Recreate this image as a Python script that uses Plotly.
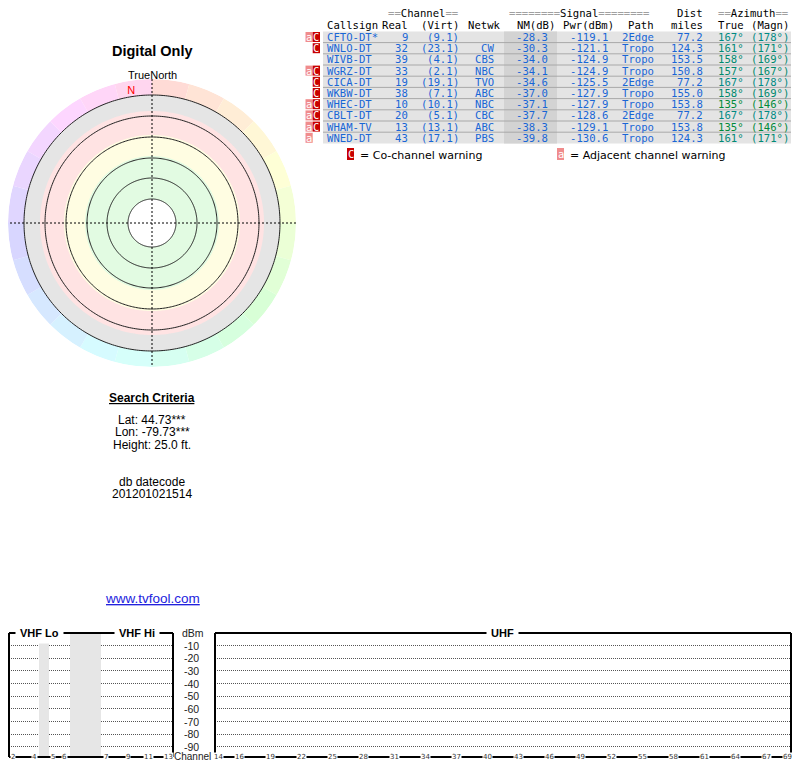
import numpy as np
import plotly.graph_objects as go

# station table
CALLSIGNS = ['CFTO-DT*', 'WNLO-DT', 'WIVB-DT', 'WGRZ-DT', 'CICA-DT',
             'WKBW-DT', 'WHEC-DT', 'CBLT-DT', 'WHAM-TV', 'WNED-DT']
REAL_CH = [9, 32, 39, 33, 19, 38, 10, 20, 13, 43]
VIRT_CH = ['9.1', '23.1', '4.1', '2.1', '19.1', '7.1', '10.1', '5.1', '13.1', '17.1']
NETWORKS = ['', 'CW', 'CBS', 'NBC', 'TVO', 'ABC', 'NBC', 'CBC', 'ABC', 'PBS']
NM_DB = [-28.3, -30.3, -34.0, -34.1, -34.6, -37.0, -37.1, -37.7, -38.3, -39.8]
PWR_DBM = [-119.1, -121.1, -124.9, -124.9, -125.5, -127.9, -127.9, -128.6, -129.1, -130.6]
PATHS = ['2Edge', 'Tropo', 'Tropo', 'Tropo', '2Edge', 'Tropo', 'Tropo', '2Edge', 'Tropo', 'Tropo']
DIST_MI = [77.2, 124.3, 153.5, 150.8, 77.2, 155.0, 153.8, 77.2, 153.8, 124.3]
AZ_TRUE = [167, 161, 158, 157, 167, 158, 135, 167, 135, 161]
AZ_MAGN = [178, 171, 169, 167, 178, 169, 146, 178, 146, 171]
ADJ_WARN = [1, 0, 0, 1, 0, 0, 1, 1, 1, 1]
CO_WARN = [1, 1, 0, 1, 1, 1, 1, 1, 1, 0]

N_LABEL_THETA = -9

# radar rings
RING_RADII = [24, 45, 65, 86, 107, 128]
BAND_RADII = [128, 112, 88, 67, 24]
BAND_COLORS = ['#e5e5e5', '#ffe3e3', '#fffde2', '#e2fbe2', '#ffffff']
HUE_RING = (128, 144)
N_HUE_SEG = 24

# spectrum panels
DBM_TICKS = [-10, -20, -30, -40, -50, -60, -70, -80, -90]
UHF_TICKS = [14, 16, 19, 22, 25, 28, 31, 34, 37, 40, 43, 46, 49, 52, 55, 58, 61, 64, 67, 69]
VHF_TICKS = ['2', '4', '5', '6', '7', '9', '11', '13']
VHF_TICK_POS = [13, 34, 53, 64, 106, 128, 148, 168]
VHF_GAPS = [(39, 49), (70, 101)]

BLUE = '#1866d6'
MONO = 'DejaVu Sans Mono'
SANS = 'Liberation Sans'
MONO_SIZE = 10.6

# the page has an 8px body margin, so the figure is 784x752 and
# everything below is laid out in screen pixels of the 800x768 window
OFF = 8
W, H = 800 - 2 * OFF, 768 - 2 * OFF
fx = lambda x: min(max((x - OFF) / W, 0), 1)
fy = lambda y: min(max((OFF + H - y) / H, 0), 1)

SPEC_TOP, SPEC_BOT = 633, 757
UHF_X = (215, 791)
VHF_X = (9, 173)

fig = go.Figure()
ann = []
shapes = []


def text(x, y, s, size=11, color='black', family=SANS, xanchor='center', xref='x', yref='y', **kw):
    kw.setdefault('borderpad', 0)
    ann.append(dict(x=x, y=y, xref=xref, yref=yref, text=s, showarrow=False,
                    xanchor=xanchor, yanchor='middle',
                    font=dict(size=size, color=color, family=family), **kw))


def mono(x, y, s, color=BLUE, xanchor='right'):
    text(x, y, s, size=MONO_SIZE, color=color, family=MONO, xanchor=xanchor)


# ---------------- radar ----------------
seg_w = 360 / N_HUE_SEG
seg_theta = [seg_w * (k + 0.5) for k in range(N_HUE_SEG)]
seg_colors = [f'hsl({t * 0.92:.0f},100%,92%)' for t in seg_theta]
fig.add_trace(go.Barpolar(r=[HUE_RING[1]] * N_HUE_SEG, theta=seg_theta, width=[seg_w] * N_HUE_SEG,
                          marker=dict(color=seg_colors, line=dict(width=0)),
                          hoverinfo='skip', showlegend=False))

circ = np.linspace(0, 360, 361)
for r, c in zip(BAND_RADII, BAND_COLORS):
    fig.add_trace(go.Scatterpolar(r=[r] * len(circ), theta=circ, mode='lines', fill='toself',
                                  fillcolor=c, line=dict(width=0, color=c),
                                  hoverinfo='skip', showlegend=False))
for r in RING_RADII:
    fig.add_trace(go.Scatterpolar(r=[r] * len(circ), theta=circ, mode='lines',
                                  line=dict(width=1, color='#222'),
                                  hoverinfo='skip', showlegend=False))
for t in (0, 90):
    fig.add_trace(go.Scatterpolar(r=[HUE_RING[1], 0, HUE_RING[1]], theta=[t, t, t + 180], mode='lines',
                                  line=dict(width=1, color='black', dash='2px,2px'),
                                  hoverinfo='skip', showlegend=False))
fig.add_trace(go.Scatterpolar(r=[133], theta=[N_LABEL_THETA], mode='text', text=['N'],
                              textfont=dict(size=11, color='red', family=SANS),
                              hoverinfo='skip', showlegend=False))

cx, cy, R = 152, 223, HUE_RING[1]
fig.update_layout(polar=dict(
    domain=dict(x=[fx(cx - R), fx(cx + R)], y=[fy(cy + R), fy(cy - R)]),
    bgcolor='rgba(0,0,0,0)', bargap=0,
    radialaxis=dict(visible=False, range=[0, R]),
    angularaxis=dict(visible=False, rotation=90, direction='clockwise'),
))

text(152, 51, '<b>Digital Only</b>', size=14.5)
text(152, 75, 'TrueNorth', size=11)

# ---------------- search criteria ----------------
ann.append(dict(x=152, y=398, xref='x', yref='y', text='<b>Search Criteria</b>', showarrow=False,
                borderpad=0, font=dict(size=12, color='black', family=SANS, lineposition='under')))
for i, s in enumerate(['Lat: 44.73***', 'Lon: -79.73***', 'Height: 25.0 ft.']):
    text(152, 420 + 12.3 * i, s, size=12)
text(152, 482, 'db datecode', size=12)
text(152, 494, '201201021514', size=12)
ann.append(dict(x=152, y=598, xref='x', yref='y', text='www.tvfool.com', showarrow=False,
                borderpad=0, font=dict(size=13.5, color='#2222dd', family=SANS, lineposition='under')))

# ---------------- station table ----------------
ROW0, ROW_H = 31.4, 11.2
n = len(CALLSIGNS)
TAB_X = (323, 791)
NM_X = (504, 557)
for i in range(n):
    y0 = ROW0 + ROW_H * i
    shapes.append(dict(type='rect', xref='x', yref='y', x0=TAB_X[0], x1=TAB_X[1], y0=y0, y1=y0 + ROW_H,
                       fillcolor='#e4e4e4', line=dict(width=0), layer='below'))
shapes.append(dict(type='rect', xref='x', yref='y', x0=NM_X[0], x1=NM_X[1], y0=ROW0, y1=ROW0 + ROW_H * n,
                   fillcolor='#d3d3d3', line=dict(width=0), layer='below'))
for i in range(1, n):
    y = ROW0 + ROW_H * i
    shapes.append(dict(type='line', xref='x', yref='y', x0=TAB_X[0], x1=TAB_X[1], y0=y, y1=y,
                       line=dict(width=1, color='#a8a8a8'), layer='below'))

dash = lambda s: f'<span style="color:#a0a0a0">{s}</span>'
mono(387, 13, dash('==') + 'Channel' + dash('=='), color='black', xanchor='left')
mono(508, 13, dash('========') + 'Signal' + dash('========'), color='black', xanchor='left')
mono(704, 13, 'Dist', color='black')
mono(717, 13, dash('==') + 'Azimuth' + dash('=='), color='black', xanchor='left')
for s, x, a in [('Callsign', 326, 'left'), ('Real', 409, 'right'), ('(Virt)', 460, 'right'),
                ('Netwk', 502, 'right'), ('NM(dB)', 556, 'right'), ('Pwr(dBm)', 615, 'right'),
                ('Path', 655, 'right'), ('miles', 704, 'right'), ('True', 717, 'left'),
                ('(Magn)', 790, 'right')]:
    mono(x, 25, s, color='black', xanchor=a)

for i in range(n):
    y = ROW0 + ROW_H * (i + 0.5)
    az_col = f'hsl({AZ_TRUE[i] + 10},100%,27%)'
    mono(326, y, CALLSIGNS[i], xanchor='left')
    mono(409, y, str(REAL_CH[i]))
    mono(460, y, f'({VIRT_CH[i]})')
    if NETWORKS[i]:
        mono(495, y, NETWORKS[i])
    mono(549, y, f'{NM_DB[i]:.1f}')
    mono(609, y, f'{PWR_DBM[i]:.1f}')
    mono(655, y, PATHS[i])
    mono(704, y, f'{DIST_MI[i]:.1f}')
    mono(717, y, f'{AZ_TRUE[i]}°', color=az_col, xanchor='left')
    mono(790, y, f'({AZ_MAGN[i]}°)', color=az_col)
    if ADJ_WARN[i]:
        shapes.append(dict(type='rect', xref='x', yref='y', x0=305.5, x1=312.7, y0=y - 5, y1=y + 5,
                           fillcolor='#f08c8c', line=dict(width=0)))
        text(309.1, y, 'a', color='white', family=MONO, size=10.5)
    if CO_WARN[i]:
        shapes.append(dict(type='rect', xref='x', yref='y', x0=312.7, x1=320, y0=y - 5, y1=y + 5,
                           fillcolor='#c80000', line=dict(width=0)))
        text(316.4, y, 'C', color='white', family=MONO, size=10.5)

# warning legend
shapes.append(dict(type='rect', xref='x', yref='y', x0=347, x1=354, y0=148, y1=160,
                   fillcolor='#c80000', line=dict(width=0)))
text(350.5, 154, 'C', color='white', family=MONO, size=10.5)
text(359, 155, '= Co-channel warning', family='DejaVu Sans', size=11, xanchor='left')
shapes.append(dict(type='rect', xref='x', yref='y', x0=557, x1=564, y0=148, y1=160,
                   fillcolor='#f08c8c', line=dict(width=0)))
text(560.5, 154, 'a', color='white', family=MONO, size=10.5)
text(569, 155, '= Adjacent channel warning', family='DejaVu Sans', size=11, xanchor='left')

# ---------------- spectrum ----------------
for x0, x1 in VHF_GAPS:
    shapes.append(dict(type='rect', xref='x3', yref='y3', x0=x0, x1=x1, y0=-98, y1=0,
                       fillcolor='#e6e6e6', line=dict(width=0), layer='between'))

for x0, x1 in (VHF_X, UHF_X):
    for seg in [(x0, SPEC_TOP, x1, SPEC_TOP), (x0, SPEC_TOP, x0, SPEC_BOT),
                (x1, SPEC_TOP, x1, SPEC_BOT), (x0, SPEC_BOT, x1, SPEC_BOT)]:
        shapes.append(dict(type='line', xref='x', yref='y', x0=seg[0], y0=seg[1], x1=seg[2], y1=seg[3],
                           line=dict(width=2, color='black')))

for s, x in [('<b>VHF Lo</b>', 39), ('<b>VHF Hi</b>', 137), ('<b>UHF</b>', 502)]:
    text(x, SPEC_TOP, s, size=11, bgcolor='white', borderpad=4)

# dBm labels: paper x so no extra x/y2 subplot (and its gridlines) gets created
text(193, SPEC_TOP, 'dBm', size=10.5, color='#222')
for v in DBM_TICKS:
    text(fx(200), v, str(v), size=10.5, color='#222', xanchor='right', xref='paper', yref='y2')
text(192, 756, 'Channel', size=10, color='#222')

for s, x in zip(VHF_TICKS, VHF_TICK_POS):
    text(x, -98, s, size=7, color='#333', family='DejaVu Sans', xref='x3', yref='y3', bgcolor='white')
for c in UHF_TICKS:
    text(c, -98, str(c), size=7, color='#333', family='DejaVu Sans', xref='x2', yref='y2', bgcolor='white')

spec_dom = [fy(SPEC_BOT), fy(SPEC_TOP)]
grid = dict(range=[-98, 0], domain=spec_dom, tickvals=DBM_TICKS, showgrid=True, gridcolor='#555',
            griddash='1px,1px', gridwidth=1, showticklabels=False, zeroline=False, showline=False,
            ticks='', fixedrange=True)
noax = dict(showgrid=False, showticklabels=False, zeroline=False, showline=False, ticks='', fixedrange=True)
ch_lo = 14 - (219 - UHF_X[0]) / 10.33
ch_hi = 69 + (UHF_X[1] - 787) / 10.33

fig.update_layout(
    width=W, height=H, margin=dict(l=0, r=0, t=0, b=0),
    paper_bgcolor='white', plot_bgcolor='rgba(0,0,0,0)',
    font=dict(family=SANS, size=11, color='black'),
    showlegend=False,
    xaxis=dict(domain=[0, 1], range=[OFF, OFF + W], visible=False, fixedrange=True),
    yaxis=dict(domain=[0, 1], range=[OFF + H, OFF], visible=False, fixedrange=True),
    xaxis2=dict(domain=[fx(UHF_X[0]), fx(UHF_X[1])], range=[ch_lo, ch_hi], anchor='y2', **noax),
    yaxis2=dict(anchor='x2', **grid),
    xaxis3=dict(domain=[fx(VHF_X[0]), fx(VHF_X[1])], range=list(VHF_X), anchor='y3', **noax),
    yaxis3=dict(anchor='x3', **grid),
    annotations=ann, shapes=shapes,
)

fig.write_html("out.html")
